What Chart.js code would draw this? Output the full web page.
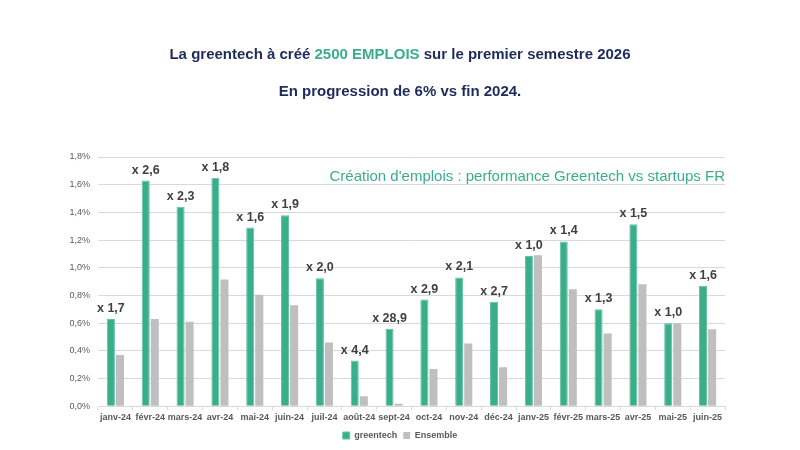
<!DOCTYPE html>
<html lang="fr">
<head>
<meta charset="utf-8">
<script src="https://cdn.jsdelivr.net/npm/chart.js@4.4.1/dist/chart.umd.min.js"></script>
<style>
    html, body { margin: 0; padding: 0; background: #fff; }
    #wrap { position: relative; width: 800px; height: 450px; overflow: hidden; }
    #chart { position: absolute; left: 0; top: 0; }
    .headline {
        position: absolute; left: 0; width: 800px; text-align: center;
        font-family: "Liberation Sans", Arial, sans-serif; font-weight: bold;
        font-size: 15px; color: #1f2b5b; white-space: nowrap;
    }
    .headline .hl { color: #3aae8a; }
</style>
</head>
<body>
<div id="wrap">
    <canvas id="chart" width="800" height="450"></canvas>
    <div class="headline" style="top: 45px;">La greentech à créé <span class="hl">2500 EMPLOIS</span> sur le premier semestre 2026</div>
    <div class="headline" style="top: 82px;">En progression de 6% vs fin 2024.</div>
</div>
<script>
const months = ['janv-24', 'févr-24', 'mars-24', 'avr-24', 'mai-24', 'juin-24', 'juil-24', 'août-24', 'sept-24',
    'oct-24', 'nov-24', 'déc-24', 'janv-25', 'févr-25', 'mars-25', 'avr-25', 'mai-25', 'juin-25']

// taux de création d'emplois, en %
const greentech = [0.63, 1.63, 1.44, 1.65, 1.29, 1.38, 0.925, 0.33, 0.56,
    0.77, 0.93, 0.755, 1.085, 1.19, 0.70, 1.315, 0.60, 0.87]
const ensemble = [0.37, 0.63, 0.61, 0.915, 0.805, 0.73, 0.46, 0.072, 0.017,
    0.268, 0.452, 0.282, 1.09, 0.845, 0.525, 0.88, 0.60, 0.555]

const ratioLabels = ['x 1,7', 'x 2,6', 'x 2,3', 'x 1,8', 'x 1,6', 'x 1,9', 'x 2,0', 'x 4,4', 'x 28,9',
    'x 2,9', 'x 2,1', 'x 2,7', 'x 1,0', 'x 1,4', 'x 1,3', 'x 1,5', 'x 1,0', 'x 1,6']

const chartTitle = "Création d'emplois : performance Greentech vs startups FR"

const GREEN = '#3aae8a'
const GREY = '#bfbfbf'
const FONT = '"Liberation Sans", Arial, sans-serif'

Chart.defaults.font.family = FONT

// ratios "x n" au-dessus des barres greentech + titre dans la zone du graphique
const ratioPlugin = {
    id: 'ratioLabels',
    afterDatasetsDraw(chart) {
        const ctx = chart.ctx
        const meta = chart.getDatasetMeta(0)
        ctx.save()
        ctx.font = 'bold 12.5px ' + FONT
        ctx.fillStyle = '#404040'
        ctx.textAlign = 'center'
        ctx.textBaseline = 'alphabetic'
        meta.data.forEach((bar, i) => {
            ctx.fillText(ratioLabels[i], bar.x, bar.y - 7)
        })

        ctx.font = '15px ' + FONT
        ctx.fillStyle = GREEN
        ctx.textAlign = 'right'
        ctx.textBaseline = 'middle'
        ctx.fillText(chartTitle, chart.chartArea.right, 177)
        ctx.restore()
    }
}

const data = {
    labels: months,
    datasets: [
        {
            label: 'greentech',
            data: greentech,
            backgroundColor: GREEN,
            borderColor: '#5cc3a2',
            borderWidth: 1,
            categoryPercentage: 0.52,
            barPercentage: 0.89
        },
        {
            label: 'Ensemble',
            data: ensemble,
            backgroundColor: GREY,
            borderWidth: 0,
            categoryPercentage: 0.52,
            barPercentage: 0.89
        }
    ]
}

const options = {
    responsive: false,
    animation: false,
    layout: {
        padding: {top: 157, right: 0, bottom: 0, left: 0}
    },
    scales: {
        x: {
            grid: {
                offset: true,
                drawOnChartArea: false,
                color: '#d9d9d9',
                tickLength: 4
            },
            border: {color: '#d9d9d9'},
            ticks: {
                color: '#595959',
                maxRotation: 0,
                autoSkip: false,
                padding: 2,
                font: {size: 9, weight: 'bold'}
            }
        },
        y: {
            min: 0,
            max: 1.8,
            afterFit: (scale) => { scale.width = 98 },
            grid: {
                color: '#d9d9d9',
                drawTicks: false
            },
            border: {display: false},
            ticks: {
                stepSize: 0.2,
                color: '#595959',
                padding: 8,
                font: {size: 9},
                callback: (value) => value.toFixed(1).replace('.', ',') + '%'
            }
        },
        // axe vide à droite : réserve la marge sans décentrer la légende
        yRight: {
            position: 'right',
            display: true,
            afterFit: (scale) => { scale.width = 75 },
            grid: {display: false},
            border: {display: false},
            ticks: {display: false}
        }
    },
    plugins: {
        legend: {
            position: 'bottom',
            labels: {
                boxWidth: 7,
                boxHeight: 7,
                padding: 6,
                color: '#595959',
                font: {size: 9, weight: 'bold'}
            }
        },
        tooltip: {enabled: false}
    }
}

new Chart(document.getElementById('chart'), {
    type: 'bar',
    data: data,
    options: options,
    plugins: [ratioPlugin]
})
</script>
</body>
</html>
